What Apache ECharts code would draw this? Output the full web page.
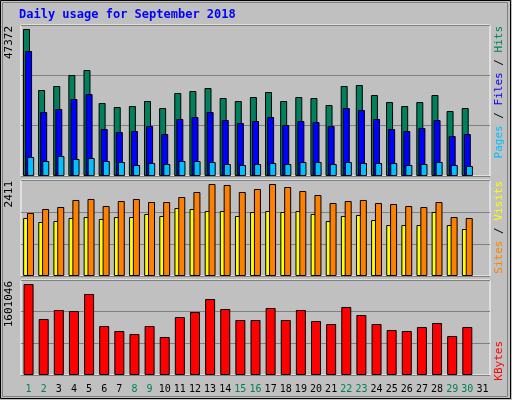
<!DOCTYPE html>
<html><head><meta charset="utf-8">
<script src="https://cdn.jsdelivr.net/npm/echarts@6/dist/echarts.min.js"></script>
<style>html,body{margin:0;padding:0;background:#c0c0c0}#c{width:512px;height:400px}</style>
</head><body><div id="c"></div>
<script>
const days = ['1','2','3','4','5','6','7','8','9','10','11','12','13','14','15','16','17','18','19','20','21','22','23','24','25','26','27','28','29','30','31'];
const weekend = ['1','2','8','9','15','16','22','23','29','30'];
const hits = [47372,27710,29000,32540,34150,23520,22230,22550,24160,21910,26740,27390,28350,25130,24160,25450,27060,24160,25450,25130,22880,29000,29320,26100,23840,22550,23840,26100,20940,21910];
const files = [40280,20620,21590,24810,26420,15140,14180,14500,16110,13530,18370,19010,20620,18040,17080,17720,19010,16430,17720,17400,16110,21910,21270,18370,15140,14500,15470,18040,12890,13530];
const pages = [6120,4830,6440,5480,5800,4830,4510,3540,4190,3870,4830,4830,4510,3870,3540,3870,4190,3870,4510,4510,3870,4510,4190,4190,4190,3540,3870,4510,3540,3220];
const visits = [1651,1756,1808,1992,2018,1834,1965,2018,1939,1939,2070,2201,2411,2385,2201,2280,2411,2332,2227,2123,1913,1965,1992,1913,1887,1834,1808,1939,1546,1520];
const sites = [1520,1415,1441,1520,1546,1494,1546,1546,1625,1572,1782,1756,1703,1703,1572,1677,1703,1677,1703,1625,1441,1572,1599,1467,1336,1336,1336,1677,1336,1232];
const kbytes = [1601046,985300,1143700,1126100,1425200,862200,774200,721400,862200,668600,1020500,1108500,1337200,1161300,967700,967700,1178900,967700,1143700,950100,897300,1196500,1055700,897300,791800,774200,844600,914900,686200,844600];
const maxHits = 47372, maxVisits = 2411, maxKB = 1601046;

const chart = echarts.init(document.getElementById('c'));
const font = 'DejaVu Sans Mono';
const bs = {borderColor:'#000',borderWidth:1};
function yax(i,max){return {gridIndex:i,min:0,max:max,interval:max/3,axisLabel:{show:false},axisTick:{show:false},axisLine:{show:false},splitLine:{lineStyle:{color:'#808080',width:1}}};}
function xax(i,lab){return {gridIndex:i,type:'category',data:days,axisTick:{show:false},axisLine:{show:false},
  axisLabel:lab?{show:true,interval:0,fontFamily:font,fontSize:10,margin:9,color:(v)=>weekend.includes(v)?'#00805c':'#000'}:{show:false}};}
const f11 = '11px "DejaVu Sans Mono"';
chart.setOption({
  backgroundColor:'#c0c0c0',
  animation:false,
  grid:[
    {left:21,right:22,top:25,height:151,show:true,borderColor:'#fff',borderWidth:1,backgroundColor:'#c0c0c0'},
    {left:21,right:22,top:180,height:96,show:true,borderColor:'#fff',borderWidth:1,backgroundColor:'#c0c0c0'},
    {left:21,right:22,top:280,height:95,show:true,borderColor:'#fff',borderWidth:1,backgroundColor:'#c0c0c0'}
  ],
  xAxis:[xax(0,false),xax(1,false),xax(2,true)],
  yAxis:[yax(0,maxHits*151/147),yax(1,maxVisits*288/276),yax(2,maxKB*285/273)],
  series:[
    {type:'bar',xAxisIndex:0,yAxisIndex:0,data:hits,barWidth:7,barGap:'-70%',itemStyle:Object.assign({color:'#00805c'},bs)},
    {type:'bar',xAxisIndex:0,yAxisIndex:0,data:files,barWidth:7,barGap:'-70%',itemStyle:Object.assign({color:'#0000ff'},bs)},
    {type:'bar',xAxisIndex:0,yAxisIndex:0,data:pages,barWidth:7,barGap:'-70%',itemStyle:Object.assign({color:'#00c0ff'},bs)},
    {type:'bar',xAxisIndex:1,yAxisIndex:1,data:sites,barWidth:7,barGap:'-45%',itemStyle:Object.assign({color:'#ffff00'},bs)},
    {type:'bar',xAxisIndex:1,yAxisIndex:1,data:visits,barWidth:7,barGap:'-45%',itemStyle:Object.assign({color:'#ff8000'},bs)},
    {type:'bar',xAxisIndex:2,yAxisIndex:2,data:kbytes,barWidth:10,itemStyle:Object.assign({color:'#ff0000'},bs)}
  ],
  graphic:[
    {type:'rect',shape:{x:0.5,y:0.5,width:510,height:398},style:{fill:'none',stroke:'#000',lineWidth:1}},
    {type:'rect',shape:{x:2.5,y:2.5,width:505,height:394},style:{fill:'none',stroke:'#808080',lineWidth:1}},
    {type:'text',left:19,top:9,style:{text:'Daily usage for September 2018',fill:'#0000ff',font:'bold 12px "DejaVu Sans Mono"'}},
    {type:'text',x:9,y:26,rotation:Math.PI/2,style:{text:String(maxHits),fill:'#000',font:f11,align:'right',verticalAlign:'middle'}},
    {type:'text',x:9,y:181,rotation:Math.PI/2,style:{text:String(maxVisits),fill:'#000',font:f11,align:'right',verticalAlign:'middle'}},
    {type:'text',x:9,y:281,rotation:Math.PI/2,style:{text:String(maxKB),fill:'#000',font:f11,align:'right',verticalAlign:'middle'}},
    {type:'text',x:499,y:26,rotation:Math.PI/2,style:{rich:{p:{fill:'#00c0ff',font:f11},f:{fill:'#0000ff',font:f11},h:{fill:'#00805c',font:f11},s:{fill:'#000',font:f11}},
      text:'{p|Pages}{s| / }{f|Files}{s| / }{h|Hits}',align:'right',verticalAlign:'middle'}},
    {type:'text',x:499,y:181,rotation:Math.PI/2,style:{rich:{a:{fill:'#ff8000',font:f11},b:{fill:'#ffff00',font:f11},s:{fill:'#000',font:f11}},
      text:'{a|Sites}{s| / }{b|Visits}',align:'right',verticalAlign:'middle'}},
    {type:'text',x:499,y:341,rotation:Math.PI/2,style:{text:'KBytes',fill:'#ff0000',font:f11,align:'right',verticalAlign:'middle'}}
  ]
});
</script></body></html>
